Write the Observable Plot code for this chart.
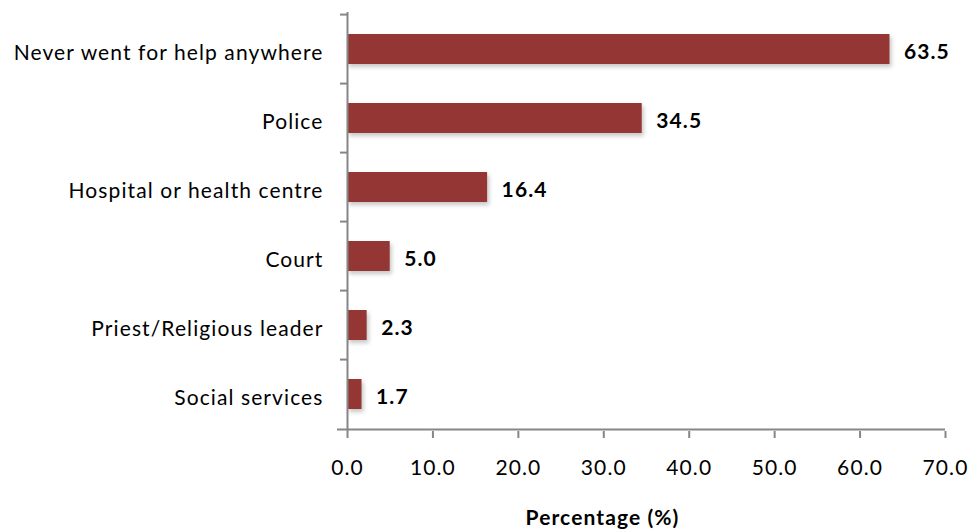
<!DOCTYPE html>
<html>
<head>
<meta charset="utf-8">
<script src="https://cdn.jsdelivr.net/npm/d3@7"></script>
<script src="https://cdn.jsdelivr.net/npm/@observablehq/plot@0.6"></script>
<style>
  html, body { margin: 0; padding: 0; background: #fff; }
  #chart svg { font-family: Lato, "Open Sans", sans-serif; }
  #chart svg text { letter-spacing: 1.1px; }
  #chart g[aria-label="bar"] { filter: drop-shadow(2px 3px 2px rgba(0,0,0,0.22)); }
</style>
</head>
<body>
<div id="chart"></div>
<script>
const categories = [
  "Never went for help anywhere",
  "Police",
  "Hospital or health centre",
  "Court",
  "Priest/Religious leader",
  "Social services"
];
const values = [63.5, 34.5, 16.4, 5.0, 2.3, 1.7];
const xTicks = [0, 10, 20, 30, 40, 50, 60, 70];
const xLabel = "Percentage (%)";

const data = categories.map((c, i) => ({category: c, value: values[i]}));

const W = 971, H = 531;
const mTop = 12, mBottom = 100, mLeft = 347, mRight = 26;
const step = (H - mTop - mBottom) / categories.length;
const axisColor = "#868686";
const barColor = "#943634";

const chart = Plot.plot({
  width: W,
  height: H,
  marginTop: mTop,
  marginBottom: mBottom,
  marginLeft: mLeft,
  marginRight: mRight,
  style: {fontSize: "21px", color: "#000", background: "#fff", overflow: "visible"},
  x: {domain: [0, 70], ticks: xTicks, label: null},
  y: {domain: categories, paddingInner: 0.57, paddingOuter: 0.285, label: null},
  marks: [
    Plot.barX(data, {y: "category", x: "value", fill: barColor}),
    Plot.text(data, {
      y: "category", x: "value", text: d => d.value.toFixed(1),
      dx: 14, dy: 3, textAnchor: "start", fontWeight: "bold", fontSize: 21, fill: "#000"
    }),
    // y axis line
    Plot.ruleX([0], {stroke: axisColor, strokeWidth: 2}),
    // y axis tick marks at band boundaries
    Plot.ruleY(categories, {y: d => d, dy: -step / 2, x1: 0, x2: 0, insetLeft: -7, stroke: axisColor, strokeWidth: 2}),
    // x axis line
    Plot.ruleY([categories[categories.length - 1]], {y: d => d, dy: step / 2, x1: 0, x2: 70, insetLeft: -10, stroke: axisColor, strokeWidth: 2}),
    Plot.axisY({tickSize: 0, tickPadding: 24, dy: 4, fontSize: 21, fill: "#000", label: null}),
    Plot.axisX({ticks: xTicks, tickSize: 7, tickPadding: 22, stroke: axisColor, strokeWidth: 2, fill: "#000",
      tickFormat: d => d.toFixed(1), fontSize: 21, label: null}),
    Plot.text([xLabel], {
      frameAnchor: "bottom", dy: 93, dx: -44, text: d => d,
      fontWeight: "bold", fontSize: 21, fill: "#000", lineAnchor: "bottom"
    })
  ]
});
document.getElementById("chart").appendChild(chart);
</script>
</body>
</html>
